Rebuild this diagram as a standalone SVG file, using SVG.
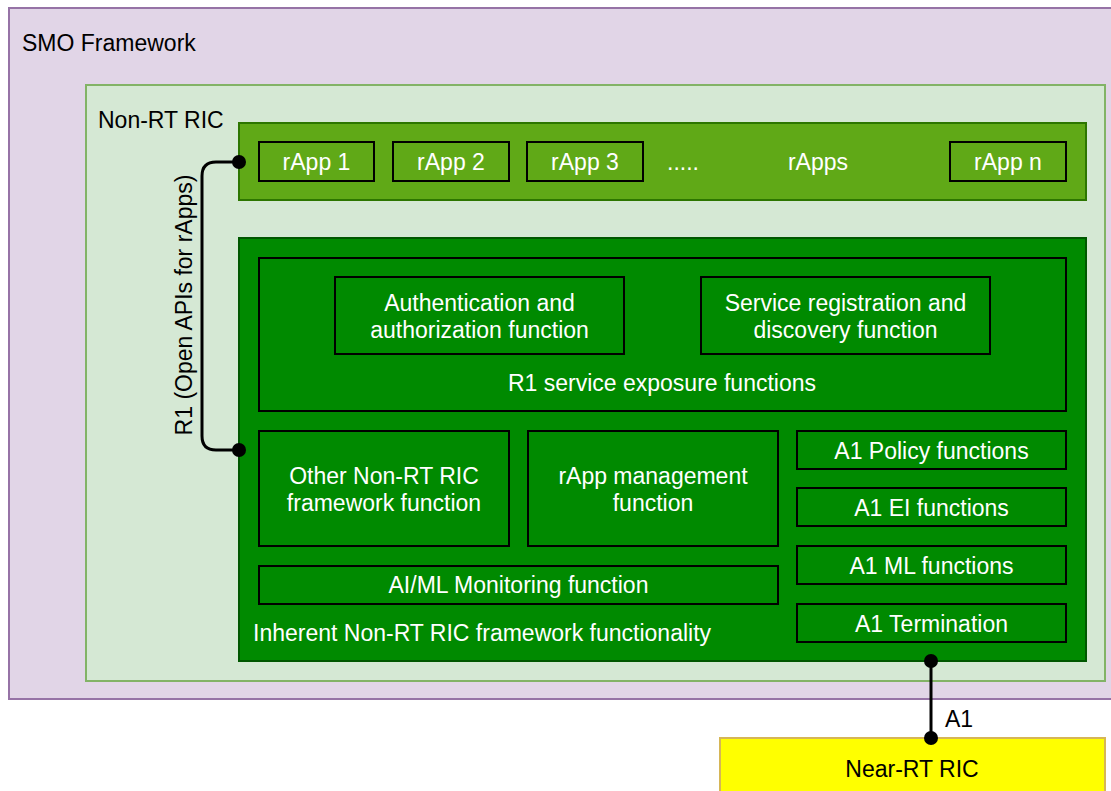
<svg xmlns="http://www.w3.org/2000/svg" width="1111" height="791" viewBox="0 0 1111 791">
<style>
text{font-family:"Liberation Sans",Arial,sans-serif;font-size:23px}
.w{fill:#ffffff}
.k{fill:#000000}
.c{text-anchor:middle}
.box{fill:none;stroke:#000000;stroke-width:2}
.gbox{fill:#008a00;stroke:#000000;stroke-width:2}
.lbox{fill:#60a917;stroke:#000000;stroke-width:2}
.conn{fill:none;stroke:#000000;stroke-width:3}
</style>
<rect width="1111" height="791" fill="#ffffff"/>
<g id="smo">
<rect x="9" y="8" width="1110" height="691" fill="#e1d5e7" stroke="#9673a6" stroke-width="2"/>
<text x="22" y="51" class="k">SMO Framework</text>
</g>
<g id="nonrtric">
<rect x="86" y="85" width="1019" height="596" fill="#d5e8d4" stroke="#82b366" stroke-width="2"/>
<text x="98" y="128" class="k">Non-RT RIC</text>
</g>
<g id="rapps">
<rect x="239" y="123" width="847" height="77" fill="#60a917" stroke="#2d7600" stroke-width="2"/>
<text x="683" y="170" class="w c">.....</text>
<text x="818" y="170" class="w c">rApps</text>
</g>
<g id="rapp1"><rect x="259" y="142" width="115" height="39" class="lbox"/><text x="316.5" y="170" class="w c">rApp 1</text></g>
<g id="rapp2"><rect x="393" y="142" width="116" height="39" class="lbox"/><text x="451" y="170" class="w c">rApp 2</text></g>
<g id="rapp3"><rect x="527" y="142" width="116" height="39" class="lbox"/><text x="585" y="170" class="w c">rApp 3</text></g>
<g id="rappn"><rect x="950" y="142" width="116" height="39" class="lbox"/><text x="1008" y="170" class="w c">rApp n</text></g>
<g id="framework">
<rect x="239" y="238" width="847" height="423" fill="#008a00" stroke="#005700" stroke-width="2"/>
<text x="253" y="641" class="w">Inherent Non-RT RIC framework functionality</text>
</g>
<g id="r1exposure">
<rect x="259" y="258" width="807" height="153" class="box"/>
<text x="662" y="391" class="w c">R1 service exposure functions</text>
</g>
<g id="auth"><rect x="335" y="277" width="289" height="77" class="gbox"/><text x="479.5" y="311" class="w c">Authentication and</text><text x="479.5" y="338" class="w c">authorization function</text></g>
<g id="srd"><rect x="701" y="277" width="289" height="77" class="gbox"/><text x="845.5" y="311" class="w c">Service registration and</text><text x="845.5" y="338" class="w c">discovery function</text></g>
<g id="other"><rect x="259" y="431" width="250" height="115" class="gbox"/><text x="384" y="484" class="w c">Other Non-RT RIC</text><text x="384" y="511" class="w c">framework function</text></g>
<g id="rappmgmt"><rect x="528" y="431" width="250" height="115" class="gbox"/><text x="653" y="484" class="w c">rApp management</text><text x="653" y="511" class="w c">function</text></g>
<g id="aiml"><rect x="259" y="566" width="519" height="38" class="gbox"/><text x="518.5" y="593" class="w c">AI/ML Monitoring function</text></g>
<g id="a1policy"><rect x="797" y="431" width="269" height="38" class="gbox"/><text x="931.5" y="459" class="w c">A1 Policy functions</text></g>
<g id="a1ei"><rect x="797" y="488" width="269" height="38" class="gbox"/><text x="931.5" y="516" class="w c">A1 EI functions</text></g>
<g id="a1ml"><rect x="797" y="546" width="269" height="38" class="gbox"/><text x="931.5" y="574" class="w c">A1 ML functions</text></g>
<g id="a1term"><rect x="797" y="604" width="269" height="38" class="gbox"/><text x="931.5" y="632" class="w c">A1 Termination</text></g>
<g id="nearrtric">
<rect x="720" y="738" width="385" height="60" fill="#ffff00" stroke="#d6b656" stroke-width="2"/>
<text x="912" y="777" class="k c">Near-RT RIC</text>
</g>
<g id="connectors">
<path d="M239 162 H216 Q202 162 202 176 V436 Q202 450 216 450 H239" class="conn"/>
<circle cx="239" cy="162" r="7" fill="#000"/>
<circle cx="239" cy="450" r="7" fill="#000"/>
<text transform="translate(192,305) rotate(-90)" class="k c">R1 (Open APIs for rApps)</text>
<path d="M931 661 V738" class="conn"/>
<circle cx="931" cy="661" r="7" fill="#000"/>
<circle cx="931" cy="738" r="7" fill="#000"/>
<text x="945" y="727" class="k">A1</text>
</g>
</svg>
